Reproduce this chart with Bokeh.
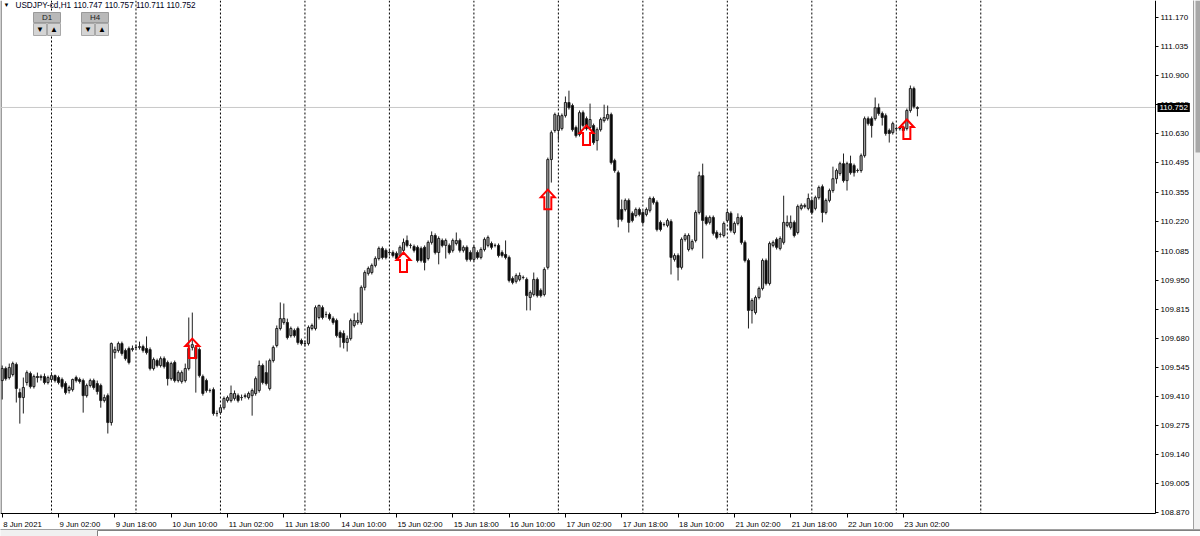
from bokeh.plotting import figure
from bokeh.models import ColumnDataSource, FixedTicker, LinearAxis, Range1d, Label
from bokeh.embed import file_html
from bokeh.resources import INLINE

# ---------------- data (USDJPY-cd, H1) ----------------
symbol = "USDJPY-cd,H1"
first_bar = -14          # bar index 0 = 9 Jun 2021 00:00 (trading hours, weekends skipped)

open_ = [
109.483,109.539,109.497,109.511,109.558,109.427,109.404,109.474,109.516,109.455,
109.502,109.497,109.502,109.474,109.488,109.506,109.497,109.488,109.469,109.437,
109.441,109.497,109.488,109.483,109.413,109.460,109.483,109.469,109.460,109.390,
109.413,109.288,109.613,109.623,109.655,109.623,109.632,109.627,109.637,109.637,
109.641,109.632,109.627,109.539,109.576,109.553,109.585,109.567,109.492,109.567,
109.483,109.479,109.483,109.539,109.637,109.637,109.627,109.502,109.483,109.437,
109.441,109.330,109.334,109.357,109.390,109.390,109.400,109.413,109.404,109.409,
109.404,109.413,109.423,109.437,109.553,109.520,109.446,109.576,109.646,109.725,
109.753,109.753,109.692,109.716,109.725,109.669,109.655,109.655,109.725,109.725,
109.776,109.822,109.790,109.790,109.771,109.762,109.706,109.702,109.660,109.678,
109.739,109.753,109.753,109.916,109.981,109.985,110.018,110.050,110.097,110.088,
110.078,110.078,110.074,110.064,110.088,110.134,110.111,110.106,110.102,110.097,
110.102,110.050,110.125,110.157,110.078,110.134,110.111,110.111,110.088,110.120,
110.134,110.088,110.102,110.078,110.046,110.078,110.055,110.092,110.111,110.120,
110.111,110.111,110.078,110.069,110.055,109.957,109.944,109.953,109.962,109.953,
109.869,109.883,109.953,109.902,109.883,110.009,110.510,110.645,110.645,110.654,
110.714,110.775,110.761,110.659,110.626,110.728,110.700,110.659,110.668,110.598,
110.649,110.691,110.700,110.719,110.505,110.449,110.278,110.278,110.320,110.260,
110.250,110.278,110.264,110.255,110.274,110.329,110.311,110.218,110.208,110.204,
110.222,110.046,110.064,110.009,110.139,110.092,110.097,110.134,110.264,110.435,
110.241,110.218,110.241,110.171,110.162,110.157,110.227,110.260,110.171,110.213,
110.241,110.125,110.041,109.809,109.799,109.869,109.911,110.041,109.934,110.111,
110.139,110.097,110.125,110.204,110.195,110.218,110.171,110.283,110.292,110.283,
110.320,110.283,110.333,110.384,110.264,110.320,110.366,110.421,110.445,110.491,
110.412,110.491,110.482,110.459,110.459,110.528,110.700,110.700,110.700,110.751,
110.724,110.714,110.645,110.635,110.654,110.654,110.659,110.654,110.738,110.840,
110.747]

high = [
109.553,109.548,109.562,109.571,109.567,109.446,109.497,109.530,109.525,109.511,
109.520,109.511,109.516,109.506,109.520,109.511,109.506,109.497,109.479,109.460,
109.492,109.506,109.497,109.492,109.469,109.492,109.492,109.483,109.469,109.418,
109.423,109.660,109.641,109.664,109.664,109.632,109.641,109.646,109.650,109.664,
109.650,109.688,109.637,109.590,109.585,109.595,109.595,109.576,109.571,109.576,
109.530,109.530,109.562,109.776,109.799,109.646,109.637,109.511,109.492,109.446,
109.451,109.344,109.367,109.409,109.413,109.460,109.437,109.423,109.418,109.423,
109.432,109.446,109.502,109.576,109.562,109.576,109.585,109.646,109.739,109.846,
109.841,109.771,109.734,109.725,109.734,109.678,109.669,109.739,109.748,109.832,
109.836,109.832,109.804,109.799,109.781,109.771,109.716,109.716,109.692,109.771,
109.795,109.799,109.925,109.995,110.013,110.027,110.060,110.106,110.106,110.097,
110.092,110.088,110.083,110.111,110.143,110.157,110.120,110.115,110.111,110.106,
110.111,110.134,110.176,110.167,110.153,110.143,110.143,110.120,110.143,110.171,
110.143,110.111,110.111,110.088,110.111,110.088,110.102,110.148,110.157,110.129,
110.120,110.120,110.088,110.134,110.064,109.967,109.981,109.985,109.971,109.962,
109.902,109.985,109.962,109.911,110.009,110.519,110.645,110.728,110.724,110.724,
110.803,110.830,110.770,110.668,110.738,110.738,110.710,110.770,110.677,110.659,
110.705,110.765,110.761,110.728,110.514,110.459,110.324,110.329,110.329,110.269,
110.287,110.287,110.274,110.287,110.338,110.338,110.320,110.227,110.218,110.236,
110.232,110.074,110.074,110.148,110.167,110.167,110.139,110.274,110.454,110.491,
110.250,110.250,110.250,110.181,110.171,110.222,110.274,110.269,110.222,110.260,
110.250,110.134,110.050,109.865,109.878,109.920,110.050,110.050,110.129,110.134,
110.148,110.153,110.342,110.250,110.250,110.227,110.301,110.306,110.306,110.352,
110.329,110.342,110.389,110.394,110.329,110.375,110.477,110.468,110.500,110.538,
110.500,110.528,110.491,110.468,110.538,110.710,110.710,110.710,110.798,110.770,
110.733,110.724,110.654,110.686,110.663,110.663,110.668,110.747,110.854,110.849,
110.757]

low = [
109.395,109.483,109.488,109.502,109.381,109.283,109.330,109.460,109.446,109.446,
109.474,109.483,109.465,109.465,109.479,109.474,109.465,109.446,109.418,109.423,
109.432,109.474,109.469,109.334,109.404,109.451,109.441,109.418,109.357,109.381,
109.237,109.274,109.585,109.613,109.599,109.576,109.558,109.618,109.627,109.627,
109.613,109.604,109.530,109.530,109.544,109.544,109.539,109.460,109.483,109.474,
109.474,109.469,109.474,109.530,109.623,109.427,109.497,109.413,109.427,109.427,
109.320,109.316,109.325,109.348,109.381,109.381,109.390,109.381,109.390,109.400,
109.395,109.320,109.413,109.427,109.465,109.460,109.437,109.567,109.637,109.716,
109.743,109.674,109.683,109.683,109.650,109.646,109.641,109.646,109.716,109.716,
109.767,109.767,109.776,109.762,109.743,109.683,109.637,109.632,109.618,109.669,
109.730,109.743,109.743,109.902,109.971,109.976,110.009,110.041,110.046,110.046,
110.064,110.055,110.041,110.055,110.078,110.102,110.097,110.078,110.032,110.032,
109.995,110.041,110.115,110.069,110.023,110.102,110.050,110.069,110.078,110.111,
110.078,110.078,110.036,110.036,110.036,110.046,110.046,110.083,110.102,110.092,
110.102,110.055,110.055,110.046,109.939,109.930,109.934,109.944,109.953,109.809,
109.809,109.874,109.869,109.869,109.874,109.999,110.403,110.635,110.598,110.645,
110.705,110.742,110.640,110.612,110.617,110.659,110.645,110.649,110.579,110.552,
110.640,110.682,110.691,110.487,110.449,110.195,110.222,110.269,110.171,110.218,
110.241,110.246,110.208,110.246,110.264,110.301,110.176,110.176,110.199,110.195,
109.976,110.036,109.948,109.999,110.129,110.083,110.088,110.125,110.255,110.050,
110.204,110.208,110.157,110.139,110.148,110.148,110.218,110.171,110.162,110.204,
110.115,110.032,109.725,109.748,109.790,109.860,109.902,109.925,109.925,110.102,
110.092,110.088,110.115,110.195,110.185,110.148,110.162,110.274,110.283,110.274,
110.255,110.274,110.324,110.218,110.255,110.311,110.356,110.398,110.435,110.403,
110.366,110.440,110.431,110.449,110.449,110.519,110.668,110.612,110.691,110.714,
110.668,110.621,110.589,110.626,110.640,110.645,110.635,110.645,110.728,110.747,
110.711]

close = [
109.539,109.492,109.544,109.562,109.446,109.404,109.451,109.520,109.455,109.502,
109.497,109.502,109.474,109.497,109.506,109.483,109.474,109.455,109.427,109.451,
109.488,109.483,109.479,109.413,109.460,109.483,109.451,109.432,109.390,109.404,
109.288,109.655,109.627,109.655,109.609,109.585,109.567,109.632,109.637,109.641,
109.623,109.613,109.539,109.581,109.553,109.585,109.548,109.492,109.562,109.483,
109.520,109.520,109.539,109.632,109.650,109.585,109.506,109.423,109.437,109.437,
109.330,109.330,109.357,109.400,109.404,109.423,109.423,109.390,109.404,109.413,
109.423,109.437,109.492,109.553,109.474,109.469,109.576,109.637,109.725,109.771,
109.771,109.683,109.725,109.692,109.660,109.655,109.655,109.730,109.739,109.822,
109.832,109.776,109.790,109.771,109.753,109.692,109.683,109.660,109.678,109.762,
109.762,109.762,109.916,109.985,110.004,110.018,110.050,110.097,110.055,110.055,
110.078,110.064,110.050,110.102,110.125,110.111,110.111,110.088,110.041,110.041,
110.032,110.125,110.157,110.078,110.143,110.111,110.134,110.078,110.134,110.134,
110.088,110.102,110.046,110.046,110.102,110.055,110.092,110.139,110.148,110.102,
110.111,110.064,110.064,110.055,109.948,109.939,109.971,109.971,109.962,109.878,
109.892,109.953,109.878,109.878,109.999,110.510,110.635,110.719,110.714,110.714,
110.775,110.751,110.649,110.621,110.728,110.668,110.654,110.696,110.589,110.649,
110.696,110.705,110.719,110.496,110.459,110.232,110.232,110.320,110.218,110.227,
110.278,110.255,110.218,110.278,110.329,110.311,110.185,110.185,110.208,110.227,
110.055,110.064,110.009,110.139,110.157,110.157,110.129,110.264,110.435,110.227,
110.213,110.241,110.167,110.148,110.162,110.213,110.264,110.181,110.213,110.241,
110.125,110.041,109.809,109.855,109.869,109.911,110.041,109.934,110.120,110.125,
110.102,110.143,110.218,110.218,110.218,110.157,110.292,110.297,110.297,110.329,
110.264,110.333,110.380,110.264,110.320,110.366,110.421,110.459,110.491,110.412,
110.491,110.449,110.449,110.459,110.528,110.700,110.677,110.668,110.751,110.724,
110.705,110.631,110.631,110.677,110.654,110.654,110.645,110.738,110.840,110.756,
110.752]

bars = list(range(first_bar, first_bar + len(close)))

time_tick_bars = [-14, 2, 18, 34, 50, 66, 82, 98, 114, 130, 146, 162, 178, 194, 210, 226, 242]
time_tick_labels = ["8 Jun 2021", "9 Jun 02:00", "9 Jun 18:00", "10 Jun 10:00", "11 Jun 02:00",
                    "11 Jun 18:00", "14 Jun 10:00", "15 Jun 02:00", "15 Jun 18:00", "16 Jun 10:00",
                    "17 Jun 02:00", "17 Jun 18:00", "18 Jun 10:00", "21 Jun 02:00", "21 Jun 18:00",
                    "22 Jun 10:00", "23 Jun 02:00"]
day_start_bars = [0, 24, 48, 72, 96, 120, 144, 168, 192, 216, 240, 264]

price_ticks = [111.170, 111.035, 110.900, 110.765, 110.630, 110.495, 110.355, 110.220, 110.085,
               109.950, 109.815, 109.680, 109.545, 109.410, 109.275, 109.140, 109.005, 108.870]
price_tick_labels = ["%.3f" % v for v in price_ticks]

arrow_bars = [40, 100, 141, 152, 243]
arrow_prices = [109.678, 110.078, 110.370, 110.668, 110.696]

# ---------------- layout ----------------
W, H = 1200, 536
BAR_PX = 3.52             # horizontal pixels per bar
PRICE_PER_PX = 0.0046465  # price units per vertical pixel
X0 = -51 / BAR_PX
X1 = X0 + W / BAR_PX
Y1 = 111.249
Y0 = Y1 - H * PRICE_PER_PX
FONT = "Liberation Sans"
TIME_FONT_PX = 7.8

def dx(px):
    return X0 + px / BAR_PX

def dy(py):
    return Y1 - py * PRICE_PER_PX

# approximate advance widths (em) of Liberation Sans, used to left-align time labels on their ticks
_EM = {" ": 0.278, ":": 0.278, "J": 0.5, "u": 0.556, "n": 0.556}
def text_px(s, size):
    return sum(_EM.get(ch, 0.556) for ch in s) * size

AX_X = dx(1155)   # price scale position
AX_Y = dy(513)    # time scale position

p = figure(width=W, height=H, x_range=Range1d(X0, X1), y_range=Range1d(Y0, Y1),
           output_backend="svg", toolbar_location=None, x_axis_location=None, y_axis_location=None,
           min_border_left=0, min_border_top=0, min_border_right=0, min_border_bottom=0)
p.xgrid.visible = False
p.ygrid.visible = False
p.outline_line_color = None
p.background_fill_color = "white"
p.border_fill_color = "white"

# window chrome: scroll bar on the right, tab strip at the bottom
p.quad(left=dx(1193), right=dx(1201), top=dy(-1), bottom=dy(537), fill_color="#f0f0f0",
       line_color="#a0a0a0", line_width=1)
p.quad(left=dx(1195), right=dx(1200), top=dy(0), bottom=dy(152), fill_color="#a8a8a8", line_color=None)
p.quad(left=dx(-1), right=dx(1201), top=dy(529), bottom=dy(537), fill_color="#f0f0f0",
       line_color="#a0a0a0", line_width=1)
p.quad(left=dx(97), right=dx(1201), top=dy(530), bottom=dy(537), fill_color="white",
       line_color="#808080", line_width=1)

# time scale: small tick at each label's bar, label text starting right after it
label_centers = [b + (1 + text_px(s, TIME_FONT_PX) / 2) / BAR_PX
                 for b, s in zip(time_tick_bars, time_tick_labels)]
xax = LinearAxis(ticker=FixedTicker(ticks=label_centers, minor_ticks=time_tick_bars),
                 fixed_location=AX_Y, bounds=(X0, AX_X),
                 major_label_overrides={c: s for c, s in zip(label_centers, time_tick_labels)})
xax.axis_line_color = "black"
xax.major_tick_line_color = None
xax.major_tick_out = 3
xax.major_tick_in = 0
xax.minor_tick_line_color = "black"
xax.minor_tick_out = 4
xax.minor_tick_in = 0
xax.major_label_standoff = 2
xax.major_label_text_font = FONT
xax.major_label_text_font_size = "%.1fpx" % TIME_FONT_PX
xax.major_label_text_color = "black"
p.add_layout(xax, "below")

yax = LinearAxis(ticker=FixedTicker(ticks=price_ticks), fixed_location=AX_X, bounds=(AX_Y, Y1),
                 major_label_overrides={v: s for v, s in zip(price_ticks, price_tick_labels)})
yax.axis_line_color = "black"
yax.major_tick_line_color = "black"
yax.major_tick_out = 3
yax.major_tick_in = 0
yax.minor_tick_line_color = None
yax.major_label_standoff = 2
yax.major_label_text_font = FONT
yax.major_label_text_font_size = "8px"
yax.major_label_text_color = "black"
p.add_layout(yax, "right")

# left border of the chart window
p.segment(x0=[X0 + 0.15], y0=[AX_Y], x1=[X0 + 0.15], y1=[Y1], line_color="#404040", line_width=1)

# daily separators
p.segment(x0=day_start_bars, y0=[Y1] * len(day_start_bars), x1=day_start_bars,
          y1=[AX_Y] * len(day_start_bars), line_color="black", line_dash="2 2", line_width=1)

# bid line
p.segment(x0=[X0], y0=[close[-1]], x1=[AX_X], y1=[close[-1]], line_color="#c8c8c8", line_width=1)

# candles
tops = [max(o, c) for o, c in zip(open_, close)]
bots = [min(o, c) for o, c in zip(open_, close)]
fills = ["#a8a8a8" if c >= o else "black" for o, c in zip(open_, close)]
src = ColumnDataSource(dict(x=bars, h=high, l=low, top=tops, bottom=bots, fill=fills))
p.segment(x0="x", y0="l", x1="x", y1="h", source=src, line_color="#202020", line_width=1)
p.vbar(x="x", top="top", bottom="bottom", width=0.6, fill_color="fill", line_color="#202020",
       line_width=1, source=src)

# signal arrows (hollow up arrows, tip at the signal price)
shape = [(0, 0), (7, 7.5), (3.5, 7.5), (3.5, 19.5), (-3.5, 19.5), (-3.5, 7.5), (-7, 7.5)]
axs = [[b + ox / BAR_PX for ox, oy in shape] for b in arrow_bars]
ays = [[pr - oy * PRICE_PER_PX for ox, oy in shape] for pr in arrow_prices]
p.patches(axs, ays, fill_color=None, line_color="#ff0000", line_width=2, line_join="miter")

# current price tag on the price scale
p.add_layout(Label(x=AX_X, y=close[-1], text="%.3f" % close[-1], x_offset=2, text_align="left",
                   text_baseline="middle", text_color="white", text_font=FONT, text_font_size="8px",
                   background_fill_color="black", padding=2))

# header
p.add_layout(Label(x=dx(3), y=dy(1), text="\u25bc", text_baseline="top", text_font_size="6px",
                   text_color="black"))
header = "%s  %.3f %.3f %.3f %.3f" % (symbol, open_[-1], high[-1], low[-1], close[-1])
p.add_layout(Label(x=dx(15), y=dy(0), text=header, text_baseline="top", text_font=FONT,
                   text_font_size="8.2px", text_color="#000020"))

# D1 / H4 buttons
for left, name in [(33, "D1"), (81, "H4")]:
    p.quad(left=dx(left), right=dx(left + 27), top=dy(12), bottom=dy(22), fill_color="#b9b9b9",
           line_color="#9a9a9a", line_width=1)
    p.add_layout(Label(x=dx(left + 13.5), y=dy(17), text=name, text_align="center", text_baseline="middle",
                       text_font=FONT, text_font_size="8px", text_color="#202020"))
    for k, glyph in enumerate(["\u25bc", "\u25b2"]):
        l2 = left + k * 14
        p.quad(left=dx(l2), right=dx(l2 + 13), top=dy(23), bottom=dy(35), fill_color="#d4d4d4",
               line_color="#a8a8a8", line_width=1)
        p.add_layout(Label(x=dx(l2 + 6.5), y=dy(29), text=glyph, text_align="center", text_baseline="middle",
                           text_font_size="8px", text_color="black"))

open("out.html", "w").write(file_html(p, INLINE))
